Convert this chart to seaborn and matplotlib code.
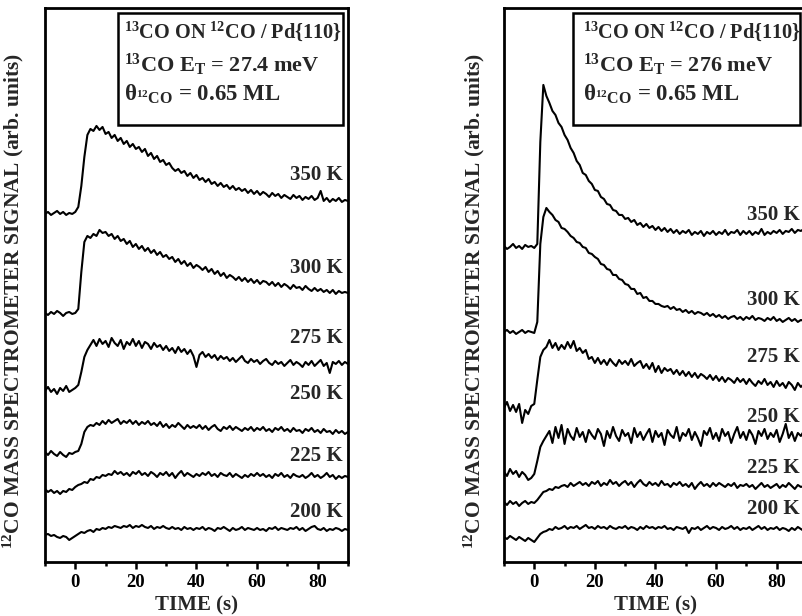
"""Isothermal 12CO displacement traces by 13CO beams on Pd{110}."""
import pandas as pd
import matplotlib
matplotlib.use('Agg')
import matplotlib.pyplot as plt
import matplotlib.transforms as mtransforms
from matplotlib.patches import Rectangle
import seaborn as sns

# time axis, one sample per second
time_s = list(range(-10, 91))
temps = ['350 K', '300 K', '275 K', '250 K', '225 K', '200 K']

# 13CO E_T = 27.4 meV (signal in arb. units, traces offset as in the figure)
low_350 = [348, 350, 347, 349, 351, 348, 350, 347, 349, 348,
           350, 355, 376, 405, 427, 433, 431, 436, 432, 435,
           428, 430, 424, 427, 421, 424, 418, 421, 415, 418,
           413, 415, 410, 413, 406, 409, 403, 406, 400, 402,
           397, 399, 394, 391, 393, 389, 391, 386, 389, 384,
           387, 382, 384, 380, 383, 378, 380, 376, 379, 375,
           377, 373, 376, 372, 374, 371, 373, 369, 372, 368,
           371, 367, 370, 368, 365, 369, 366, 368, 364, 367,
           365, 363, 367, 364, 366, 362, 365, 363, 366, 362,
           364, 371, 361, 364, 360, 363, 361, 364, 360, 362,
           361]
low_300 = [249, 247, 250, 248, 251, 249, 246, 249, 250, 248,
           249, 253, 290, 320, 326, 324, 328, 326, 332, 329,
           330, 326, 328, 323, 326, 321, 323, 318, 321, 315,
           318, 313, 316, 311, 314, 309, 312, 307, 310, 305,
           307, 303, 305, 300, 303, 298, 301, 296, 299, 294,
           297, 295, 292, 295, 290, 293, 288, 291, 286, 289,
           284, 287, 285, 282, 285, 281, 284, 280, 283, 279,
           282, 278, 281, 280, 277, 280, 276, 279, 275, 278,
           276, 273, 277, 274, 275, 272, 276, 273, 271, 274,
           271, 273, 270, 272, 269, 272, 268, 271, 269, 270,
           269]
low_275 = [171, 175, 170, 173, 168, 174, 171, 176, 170, 172,
           174, 177, 190, 205, 212, 217, 222, 216, 223, 218,
           221, 215, 224, 219, 216, 222, 213, 220, 217, 223,
           216, 221, 214, 220, 218, 213, 219, 215, 217, 212,
           216, 211, 214, 209, 215, 210, 213, 208, 212, 206,
           195, 207, 210, 205, 208, 204, 207, 202, 206, 203,
           205, 201, 204, 200, 203, 206, 201, 199, 203, 200,
           202, 198, 201, 203, 199, 197, 201, 198, 200, 196,
           199, 202, 197, 200, 198, 195, 200, 197, 201, 196,
           199, 202, 196, 199, 189, 200, 198, 201, 197, 200,
           198]
low_250 = [110, 107, 111, 108, 106, 110, 107, 105, 109, 108,
           110, 111, 118, 130, 135, 137, 136, 139, 137, 141,
           138, 142, 139, 141, 143, 138, 141, 139, 142, 138,
           141, 137, 140, 138, 141, 137, 139, 136, 140, 135,
           138, 134, 137, 135, 139, 136, 133, 137, 134, 136,
           134, 137, 133, 136, 132, 135, 137, 133, 131, 135,
           133, 136, 132, 135, 133, 131, 134, 132, 135, 131,
           134, 132, 135, 131, 133, 130, 134, 132, 135, 131,
           133, 130, 134, 131, 132, 129, 133, 131, 134, 130,
           132, 129, 133, 130, 131, 128, 132, 129, 131, 128,
           130]
low_225 = [73, 70, 72, 69, 71, 68, 71, 70, 73, 72,
           75, 77, 78, 80, 79, 83, 82, 85, 84, 87,
           86, 88, 87, 91, 88, 90, 87, 89, 86, 90,
           88, 91, 87, 89, 86, 90, 88, 85, 89, 87,
           90, 86, 89, 84, 88, 91, 86, 89, 87, 85,
           88, 86, 89, 87, 90, 86, 88, 85, 89, 87,
           86, 89, 85, 88, 86, 84, 87, 85, 88, 86,
           89, 86, 88, 85, 87, 84, 88, 86, 89, 85,
           87, 84, 88, 86, 85, 87, 84, 86, 89, 85,
           87, 84, 86, 89, 85, 87, 83, 86, 84, 86,
           85]
low_200 = [27, 28, 26, 27, 25, 24, 26, 25, 22, 24,
           26, 28, 30, 29, 31, 32, 30, 33, 32, 34,
           33, 35, 34, 36, 35, 34, 36, 35, 37, 34,
           36, 35, 37, 35, 34, 36, 33, 35, 34, 36,
           34, 33, 35, 33, 34, 32, 35, 33, 34, 32,
           34, 33, 35, 32, 34, 33, 31, 34, 33, 35,
           33, 31, 34, 32, 33, 35, 32, 34, 33, 32,
           34, 32, 33, 31, 34, 33, 35, 32, 34, 33,
           32, 34, 33, 35, 32, 34, 31, 33, 35, 36,
           33, 32, 34, 31, 33, 32, 34, 33, 31, 33,
           32]

# 13CO E_T = 276 meV
high_350 = [316, 313, 315, 318, 314, 316, 313, 317, 315, 316,
            314, 318, 420, 477, 466, 459, 451, 447, 439, 435,
            427, 422, 414, 409, 401, 397, 389, 387, 381, 378,
            372, 371, 365, 363, 358, 357, 352, 351, 347, 347,
            343, 344, 340, 342, 337, 339, 335, 338, 334, 336,
            332, 335, 331, 334, 330, 333, 329, 332, 328, 331,
            329, 332, 327, 330, 328, 331, 326, 330, 328, 331,
            327, 330, 328, 332, 327, 330, 329, 332, 327, 331,
            328, 331, 327, 330, 328, 333, 327, 330, 328, 331,
            329, 332, 328, 331, 330, 333, 329, 332, 331, 333,
            332]
high_300 = [230, 232, 229, 231, 228, 230, 232, 229, 231, 230,
            229, 240, 318, 345, 354, 350, 347, 342, 340, 334,
            333, 330, 326, 324, 320, 319, 315, 314, 309, 308,
            305, 303, 298, 297, 293, 292, 287, 287, 283, 282,
            278, 277, 273, 273, 268, 269, 264, 265, 261, 261,
            258, 258, 256, 255, 256, 253, 255, 252, 253, 250,
            252, 249, 251, 248, 250, 249, 247, 249, 246, 248,
            245, 247, 244, 246, 243, 245, 246, 243, 245, 242,
            245, 243, 246, 242, 244, 243, 241, 244, 242, 245,
            241, 243, 240, 242, 244, 241, 243, 240, 242, 241,
            242]
high_275 = [154, 160, 151, 157, 150, 158, 139, 152, 148, 156,
            158, 182, 205, 212, 215, 222, 214, 219, 212, 217,
            213, 220, 214, 221, 211, 214, 209, 212, 203, 205,
            199, 204, 198, 202, 197, 203, 199, 196, 202, 198,
            201, 197, 203, 196, 199, 201, 194, 198, 193, 199,
            190, 196, 189, 194, 191, 193, 188, 192, 187, 191,
            186, 190, 185, 189, 184, 188, 186, 183, 187, 182,
            186, 181, 185, 180, 184, 182, 179, 184, 180, 183,
            178, 183, 179, 176, 181, 178, 183, 177, 180, 175,
            181, 176, 179, 174, 180, 177, 172, 179, 175, 178,
            176]
high_250 = [90, 86, 93, 88, 91, 85, 90, 87, 82, 84,
            88, 101, 115, 121, 126, 131, 119, 135, 124, 137,
            118, 133, 126, 122, 134, 125, 130, 120, 132, 127,
            123, 133, 128, 116, 131, 124, 135, 126, 121, 132,
            126, 129, 119, 134, 125, 130, 122, 128, 133, 120,
            131, 125, 129, 117, 132, 127, 124, 135, 121, 129,
            126, 133, 122, 130, 124, 116, 131, 127, 134, 123,
            129, 121, 133, 126, 130, 119, 128, 135, 124, 130,
            122, 132, 127, 118, 131, 126, 133, 123, 129, 125,
            132, 120, 128, 138, 124, 130, 121, 129, 126, 131,
            125]
high_225 = [60, 57, 61, 58, 60, 56, 59, 61, 58, 60,
            59, 62, 66, 70, 71, 73, 72, 75, 74, 76,
            77, 75, 79, 76, 78, 80, 77, 79, 76, 80,
            78, 81, 76, 79, 77, 82, 78, 80, 76, 79,
            81, 77, 80, 75, 79, 82, 78, 76, 80, 77,
            79, 76, 81, 77, 78, 75, 79, 77, 80, 76,
            78, 75, 79, 73, 77, 80, 76, 78, 75, 79,
            76, 79, 77, 75, 78, 76, 79, 74, 77, 76,
            78, 75, 77, 73, 76, 79, 75, 77, 74, 76,
            78, 74, 77, 75, 79, 76, 73, 77, 75, 76,
            75]
high_200 = [25, 23, 26, 24, 22, 25, 23, 21, 24, 22,
            20, 24, 28, 30, 31, 33, 32, 35, 33, 34,
            36, 33, 35, 34, 36, 33, 35, 37, 34, 35,
            33, 36, 34, 35, 33, 36, 34, 33, 35, 34,
            36, 33, 35, 34, 32, 35, 33, 36, 34, 35,
            33, 35, 34, 36, 33, 34, 32, 35, 34, 33,
            35, 29, 34, 33, 35, 32, 34, 36, 33, 35,
            34, 32, 35, 33, 34, 36, 33, 35, 32, 34,
            33, 35, 32, 34, 36, 33, 35, 32, 34, 33,
            35, 32, 34, 33, 31, 34, 32, 35, 33, 31,
            32]

# where each temperature label sits (same units as the signal)
low_label_y = [382, 289, 219, 163, 101, 45]
high_label_y = [342, 257, 200, 140, 89, 48]


def build_frame(traces):
    """Stack the traces into long format for seaborn."""
    frames = []
    for temp, values in zip(temps, traces):
        frames.append(pd.DataFrame({'time': time_s, 'signal': values, 'temp': temp}))
    return pd.concat(frames, ignore_index=True)


def draw_panel(ax, traces, label_y, header, box_x, text_x, label_x):
    """Draw one stack of isothermal traces with its annotation box."""
    df = build_frame(traces)
    sns.lineplot(data=df, x='time', y='signal', units='temp', estimator=None,
                 color='black', lw=1.5, ax=ax, legend=False)
    ax.set_xlim(-10, 90)
    ax.set_ylim(0, 554)
    ax.set_yticks([])
    ax.set_xticks([0, 20, 40, 60, 80])
    ax.set_xticks([-10, 10, 30, 50, 70, 90], minor=True)
    ax.tick_params(axis='x', which='major', direction='out', length=5,
                   width=1.8, labelsize=13.5, pad=4)
    ax.tick_params(axis='x', which='minor', direction='out', length=3, width=1.8)
    for spine in ax.spines.values():
        spine.set_linewidth(2.0)
    ax.set_xlabel('TIME (s)', fontsize=15, labelpad=3)
    ax.set_ylabel(r'$^{12}$CO MASS SPECTROMETER SIGNAL (arb. units)', fontsize=15.5)

    # annotation box in the upper right
    ax.add_patch(Rectangle((box_x[0], 0.789), box_x[1] - box_x[0], 0.202,
                           transform=ax.transAxes, fill=False, lw=1.8,
                           ec='black', clip_on=False))
    ax.text(text_x, 0.946, r'$^{13}$CO ON $^{12}$CO / Pd{110}',
            transform=ax.transAxes, fontsize=14.6, va='baseline')
    ax.text(text_x, 0.884, r'$^{13}$CO E$_\mathrm{T}$ = ' + header,
            transform=ax.transAxes, fontsize=16, va='baseline')
    ax.text(text_x, 0.832, r'θ$_{^{12}\mathrm{CO}}$ = 0.65 ML',
            transform=ax.transAxes, fontsize=16.5, va='baseline')

    trans = mtransforms.blended_transform_factory(ax.transAxes, ax.transData)
    for temp, y in zip(temps, label_y):
        ax.text(label_x, y, temp, transform=trans, ha='right', va='baseline',
                fontsize=15)


sns.set_style('ticks')
plt.rcParams['font.family'] = ['Liberation Serif', 'DejaVu Serif']
plt.rcParams['font.weight'] = 'bold'
plt.rcParams['axes.labelweight'] = 'bold'
plt.rcParams['mathtext.fontset'] = 'custom'
plt.rcParams['mathtext.rm'] = 'Liberation Serif:bold'
plt.rcParams['mathtext.it'] = 'Liberation Serif:bold'
plt.rcParams['mathtext.bf'] = 'Liberation Serif:bold'
plt.rcParams['axes.edgecolor'] = 'black'
plt.rcParams['xtick.color'] = 'black'

fig = plt.figure(figsize=(8.03, 6.16), dpi=100)
ax_low = fig.add_axes([0.0560, 0.0877, 0.3773, 0.8994])
ax_high = fig.add_axes([0.6276, 0.0877, 0.3773, 0.8994])

draw_panel(ax_low, [low_350, low_300, low_275, low_250, low_225, low_200],
           low_label_y, '27.4 meV', (0.241, 0.983), 0.262, 0.983)
draw_panel(ax_high, [high_350, high_300, high_275, high_250, high_225, high_200],
           high_label_y, '276 meV', (0.228, 0.977), 0.262, 0.977)

ax_low.yaxis.set_label_coords(-0.062, 0.471)
ax_high.yaxis.set_label_coords(-0.056, 0.471)

fig.savefig('out.png', dpi=100)
